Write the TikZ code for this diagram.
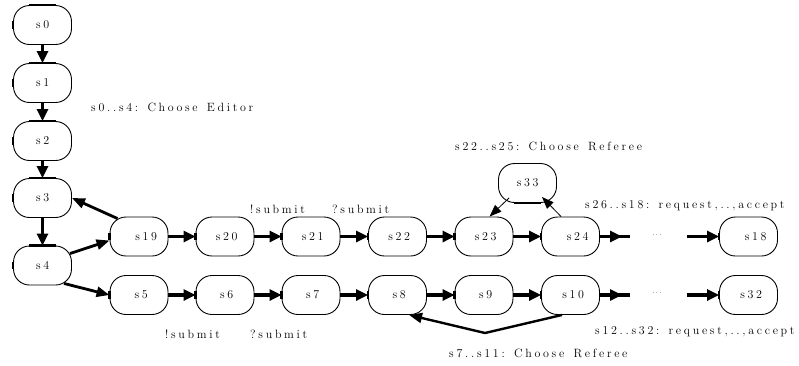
\documentclass[tikz,border=0pt]{standalone}
\usepackage{fontspec}
\usetikzlibrary{arrows.meta}
\ExplSyntaxOn
\NewDocumentCommand\spc{m}{\tl_map_inline:nn{#1}{##1\kern2.7pt}}
\ExplSyntaxOff
\newcommand\myspfont{\fontsize{12}{14}\selectfont}
\newcommand\mydotfont{\fontsize{7}{8}\selectfont}
\tikzset{
  st/.style={draw, line width=0.9pt, rounded corners=16pt, minimum width=58pt,
    minimum height=39pt, inner sep=0pt, font=\myspfont},
  lbl/.style={anchor=base west, inner sep=0pt, font=\myspfont},
  bigline/.style={line width=3.8pt},
  bigarr/.style={line width=3.8pt, -{Triangle[length=12pt,width=11pt]}},
  midarr/.style={line width=2.8pt, -{Triangle[length=13pt,width=10pt]}},
  thinarr/.style={line width=0.8pt, -{Triangle[length=12pt,width=9pt]}},
  bar/.style={line width=2.8pt},
}
\begin{document}
\begin{tikzpicture}[x=1pt,y=-1pt]
\useasboundingbox (0,0) rectangle (799,365);
% vertical column
\node[st] (s0) at (42.5,25) {\hspace*{3pt}\spc{s0}};
\node[st] (s1) at (42.5,83) {\hspace*{3pt}\spc{s1}};
\node[st] (s2) at (42.5,141) {\hspace*{3pt}\spc{s2}};
\node[st] (s3) at (42.5,198) {\hspace*{3pt}\spc{s3}};
\node[st] (s4) at (42.5,265.5) {\hspace*{3pt}\spc{s4}};
% row 1
\node[st] (s19) at (139,236.5) {\hspace*{17pt}\spc{s19}};
\node[st] (s20) at (225,236.5) {\hspace*{6pt}\spc{s20}};
\node[st] (s21) at (311,236.5) {\hspace*{6pt}\spc{s21}};
\node[st] (s22) at (397.5,236.5) {\hspace*{6pt}\spc{s22}};
\node[st] (s23) at (484,236.5) {\hspace*{6pt}\spc{s23}};
\node[st] (s24) at (570.5,236.5) {\hspace*{17pt}\spc{s24}};
\node[st] (s18) at (748.5,236.5) {\hspace*{17pt}\spc{s18}};
\node[st] (s33) at (527.5,183) {\hspace*{3pt}\spc{s33}};
% row 2
\node[st] (s5) at (139,295) {\hspace*{7pt}\spc{s5}};
\node[st] (s6) at (225,295) {\hspace*{6pt}\spc{s6}};
\node[st] (s7) at (311,295) {\hspace*{6pt}\spc{s7}};
\node[st] (s8) at (397.5,295) {\hspace*{6pt}\spc{s8}};
\node[st] (s9) at (484,295) {\hspace*{6pt}\spc{s9}};
\node[st] (s10) at (570.5,295) {\hspace*{8pt}\spc{s10}};
\node[st] (s32) at (748.5,295) {\hspace*{8pt}\spc{s32}};
% dots
\node[inner sep=0pt, font=\mydotfont] (d1) at (657,235) {.\kern1.3pt.\kern1.3pt.};
\node[inner sep=0pt, font=\mydotfont] (d2) at (657,293) {.\kern1.3pt.\kern1.3pt.};
\coordinate (a1) at (630,236.5);
\coordinate (b1) at (687,236.5);
\coordinate (a2) at (630,295);
\coordinate (b2) at (687,295);
\coordinate (v) at (485,333);
% thick straight segments of boxes
\foreach \n in {s0,s1,s2,s3,s4} {
  \draw[bar] ([xshift=16pt]\n.north west) -- ([xshift=-16pt]\n.north east);
  \draw[bar] ([yshift=-16pt]\n.north west) -- ([yshift=16pt]\n.south west);
}
\foreach \n in {s19,s20,s21,s22,s23,s24,s18,s5,s6,s7,s8,s9,s10,s32} {
  \draw[bar] ([yshift=-16pt]\n.north west) -- ([yshift=16pt]\n.south west);
}
\draw[bar] ([xshift=16pt]s33.south west) -- ([xshift=-16pt]s33.south east);
% vertical arrows
\draw[bigarr] (s0) -- (s1);
\draw[bigarr] (s1) -- (s2);
\draw[bigarr] (s2) -- (s3);
\draw[bigarr] (s3) -- (s4);
% branches
\draw[midarr] ([shift={(-2,8)}]s4.north east) -- ([yshift=-4pt]s19.west);
\draw[midarr] ([shift={(-8,-2)}]s4.south east) -- (s5.west);
\draw[midarr] ([shift={(8,2)}]s19.north west) -- (s3.east);
% row arrows
\draw[bigarr] (s19) -- (s20);
\draw[bigarr] (s20) -- (s21);
\draw[bigarr] (s21) -- (s22);
\draw[bigarr] (s22) -- (s23);
\draw[bigarr] (s23) -- (s24);
\draw[bigline] (s24) -- (a1);
\draw[bigarr] (s24) -- ([xshift=-8pt]a1);
\draw[bigarr] (b1) -- (s18);
\draw[bigarr] (s5) -- (s6);
\draw[bigarr] (s6) -- (s7);
\draw[bigarr] (s7) -- (s8);
\draw[bigarr] (s8) -- (s9);
\draw[bigarr] (s9) -- (s10);
\draw[bigline] (s10) -- (a2);
\draw[bigarr] (s10) -- ([xshift=-8pt]a2);
\draw[bigarr] (b2) -- (s32);
% s33 loop
\draw[thinarr] ([shift={(11,-5)}]s33.south west) -- ([xshift=35pt]s23.north west);
\draw[thinarr] ([xshift=20pt]s24.north west) -- ([shift={(-15,-6)}]s33.south east);
% s10 back to s8
\draw[midarr, line width=2.4pt] ([xshift=21pt]s10.south west) -- (v) -- ([xshift=41pt]s8.south west);
% labels
\node[lbl] (l1) at (91,111) {\spc{s0..s4:~Choose~Editor}};
\node[lbl] (l2) at (250,213) {\spc{!submit}};
\node[lbl] (l3) at (332,213) {\spc{?submit}};
\node[lbl] (l4) at (165,338) {\spc{!submit}};
\node[lbl] (l5) at (250,338) {\spc{?submit}};
\node[lbl] (l6) at (455,150) {\spc{s22..s25:~Choose~Referee}};
\node[lbl] (l7) at (585,208) {\spc{s26..s18:~request,..,accept}};
\node[lbl] (l8) at (595,334) {\spc{s12..s32:~request,..,accept}};
\node[lbl] (l9) at (449,357) {\spc{s7..s11:~Choose~Referee}};
\end{tikzpicture}
\end{document}
